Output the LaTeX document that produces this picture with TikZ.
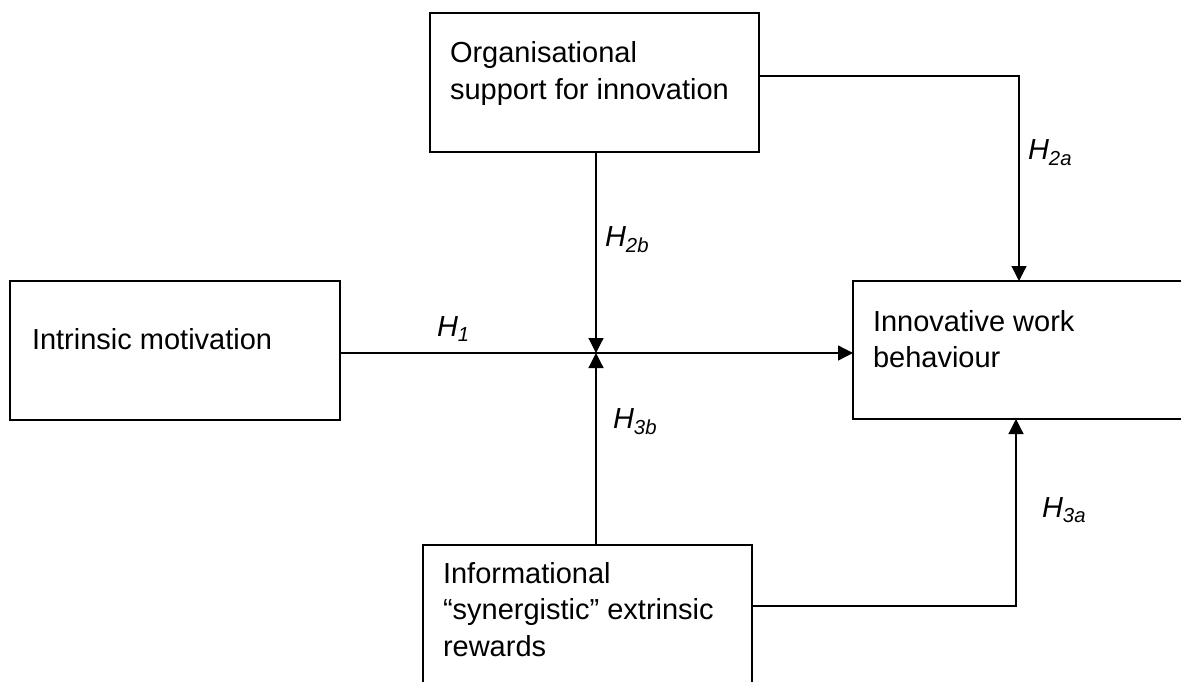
\documentclass[tikz,border=0pt]{standalone}
\usepackage{fontspec}
\setmainfont{Liberation Sans}
\usetikzlibrary{arrows.meta}
\tikzset{
  box/.style={draw, line width=1.8pt, inner sep=0pt, outer sep=0pt},
  txt/.style={anchor=base west, inner sep=0pt, outer sep=0pt},
  hyp/.style={anchor=base west, inner sep=0pt, outer sep=0pt},
  conn/.style={line width=1.2pt, -{Triangle[length=15pt,width=15pt]}},
}
\newcommand{\Hyp}[1]{\textit{H}\textsubscript{\textit{#1}}}
\newcommand{\boxtext}[1]{\parbox[t]{330pt}{\raggedright #1}}
\begin{document}
\begin{tikzpicture}[x=1pt,y=-1pt]
\fontsize{29}{36.8}\selectfont
\useasboundingbox (0,0) rectangle (1181,682);
% boxes
\node[box, minimum width=329pt, minimum height=139pt] (osi) at (594.5,82.5) {};
\node[box, minimum width=330pt, minimum height=139pt] (im) at (175,350.5) {};
\node[box, minimum width=337pt, minimum height=138pt] (iwb) at (1021.5,350) {};
\node[box, minimum width=329pt, minimum height=145pt] (ier) at (587.5,617.5) {};
% box texts
\node[txt] (osit) at (450,63) {\boxtext{Organisational\\support for innovation}};
\node[txt] (imt) at (32,349) {Intrinsic motivation};
\node[txt] (iwbt) at (873,331) {\boxtext{Innovative work\\behaviour}};
\node[txt] (iert) at (443,583) {\boxtext{Informational\\“synergistic” extrinsic\\rewards}};
% junction points
\coordinate (j) at (596,353);
\coordinate (c2a) at (1019,76);
\coordinate (c3a) at (1016,606);
% connectors
\draw[conn] (im.east |- j) -- (iwb.west |- j);
\draw[conn] (j |- osi.south) -- (j);
\draw[conn] (j |- ier.north) -- (j);
\draw[conn] (osi.east |- c2a) -| (iwb.north -| c2a);
\draw[conn] (ier.east |- c3a) -| (iwb.south -| c3a);
% hypothesis labels
\node[hyp] (h1) at (437,336) {\Hyp{1}};
\node[hyp] (h2b) at (605,246) {\Hyp{2b}};
\node[hyp] (h3b) at (613,428) {\Hyp{3b}};
\node[hyp] (h2a) at (1028,160) {\Hyp{2a}};
\node[hyp] (h3a) at (1042,517) {\Hyp{3a}};
\end{tikzpicture}
\end{document}
